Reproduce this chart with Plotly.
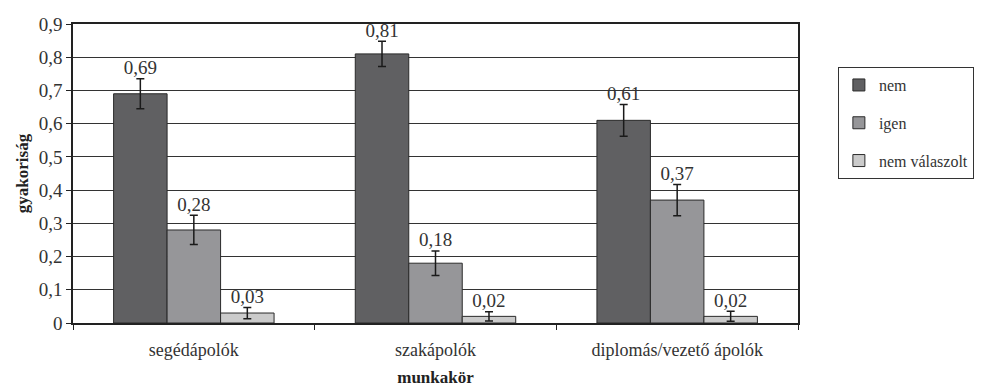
import plotly.graph_objects as go

categories = ["segédápolók", "szakápolók", "diplomás/vezető ápolók"]
series_names = ["nem", "igen", "nem válaszolt"]
nem = [0.69, 0.81, 0.61]
igen = [0.28, 0.18, 0.37]
nem_valaszolt = [0.03, 0.02, 0.02]
err_nem = [0.045, 0.038, 0.048]
err_igen = [0.044, 0.037, 0.047]
err_nv = [0.017, 0.014, 0.015]
y_tickvals = [0, 0.1, 0.2, 0.3, 0.4, 0.5, 0.6, 0.7, 0.8, 0.9]
y_ticktext = ["0", "0,1", "0,2", "0,3", "0,4", "0,5", "0,6", "0,7", "0,8", "0,9"]

colors = ["#606062", "#969699", "#cbcbcb"]
FONT = "'Liberation Serif', 'DejaVu Serif', serif"

fig = go.Figure()
series = [nem, igen, nem_valaszolt]
errs = [err_nem, err_igen, err_nv]
for i, (name, vals, err) in enumerate(zip(series_names, series, errs)):
    fig.add_trace(go.Bar(
        x=categories, y=vals, name=name,
        marker=dict(color=colors[i], line=dict(color="#2a2a2a", width=1)),
        error_y=dict(type="data", array=err, visible=True, color="#1a1a1a",
                     thickness=1.5, width=4),
        offsetgroup=str(i), legendgroup=str(i),
    ))
for i, (vals, err) in enumerate(zip(series, errs)):
    fig.add_trace(go.Scatter(
        x=categories, y=[v + e for v, e in zip(vals, err)],
        mode="text",
        text=[f"{v:.2f}".replace(".", ",") for v in vals],
        textposition="top center",
        textfont=dict(family=FONT, size=19, color="#333333"),
        offsetgroup=str(i), showlegend=False, hoverinfo="skip",
    ))

fig.update_layout(
    width=986, height=388,
    margin=dict(l=73, r=188, t=24, b=65, autoexpand=False),
    paper_bgcolor="white", plot_bgcolor="white",
    barmode="group", bargap=0.336, bargroupgap=0,
    scattermode="group",
    font=dict(family=FONT, size=18, color="#333333"),
    legend=dict(
        x=1.055, y=0.856, xanchor="left", yanchor="top",
        bordercolor="#333333", borderwidth=1,
        font=dict(family=FONT, size=16, color="#333333"),
        traceorder="grouped", tracegroupgap=14,
        itemwidth=30,
    ),
)
fig.update_xaxes(
    automargin=False,
    showline=True, linecolor="#222222", linewidth=1.5, mirror=True,
    ticks="outside", tickson="boundaries", ticklen=5, tickcolor="#222222",
    ticklabelstandoff=10,
    tickfont=dict(family=FONT, size=18, color="#333333"),
    title=dict(text="<b>munkakör</b>", font=dict(family=FONT, size=17, color="#222222"), standoff=12),
)
fig.update_yaxes(
    automargin=False,
    range=[0, 0.9], tickvals=y_tickvals, ticktext=y_ticktext,
    showline=True, linecolor="#222222", linewidth=1.5, mirror=True,
    showgrid=True, gridcolor="#333333", gridwidth=1,
    ticks="outside", ticklen=5, tickcolor="#222222",
    tickfont=dict(family=FONT, size=19, color="#333333"),
    title=dict(text="<b>gyakoriság</b>", font=dict(family=FONT, size=17, color="#222222"), standoff=6),
    zeroline=False,
)

fig.write_html("out.html", config={"displayModeBar": False},
               post_script="document.body.style.margin='0';")
